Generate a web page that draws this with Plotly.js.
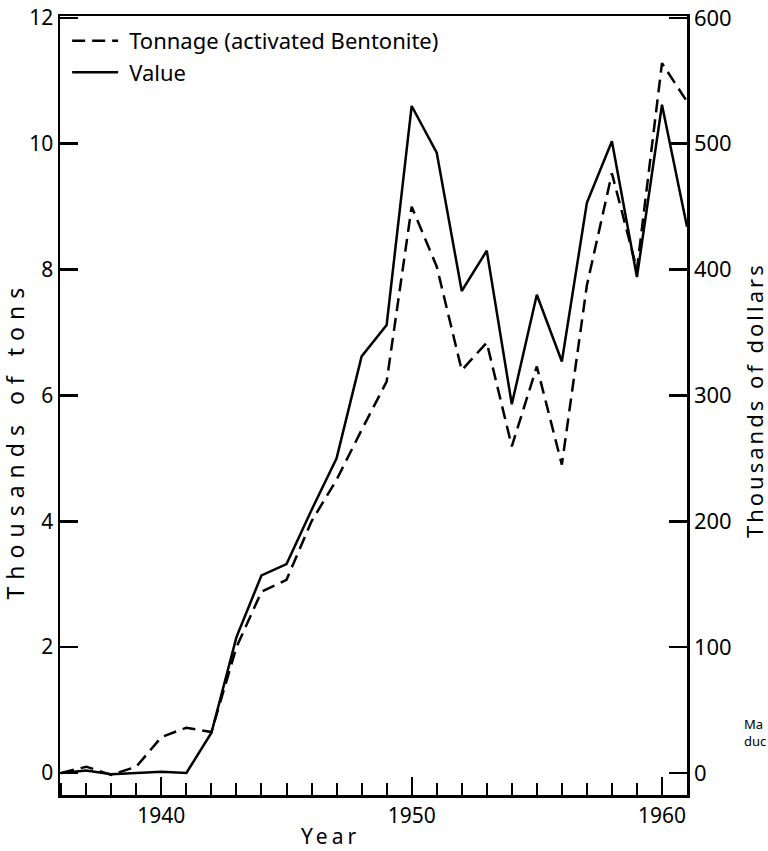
<!DOCTYPE html>
<html>
<head>
<meta charset="utf-8">
<script src="https://cdn.plot.ly/plotly-3.0.1.min.js"></script>
<style>
  html, body { margin: 0; padding: 0; background: #fff; }
  #chart { width: 768px; height: 851px; }
</style>
</head>
<body>
<div id="chart"></div>
<script>
// Years
const years = [1936, 1937, 1938, 1939, 1940, 1941, 1942, 1943, 1944, 1945, 1946, 1947, 1948,
               1949, 1950, 1951, 1952, 1953, 1954, 1955, 1956, 1957, 1958, 1959, 1960, 1961];
// Tonnage of activated bentonite, thousands of tons (left axis)
const tonnage = [0, 0.1, -0.03, 0.1, 0.57, 0.72, 0.65, 2.0, 2.88, 3.07, 4.0, 4.66, 5.45,
                 6.22, 9.0, 8.05, 6.4, 6.84, 5.19, 6.46, 4.9, 7.75, 9.53, 8.0, 11.28, 10.67];
// Value, thousands of dollars (right axis)
const value = [0, 2, -1, 0, 1, 0, 32, 108, 157, 166, 209, 250, 331,
               356, 530, 493, 383, 415, 293, 380, 327, 453, 502, 394, 531, 434];

const seriesNames = ['Tonnage (activated Bentonite)', 'Value'];
const leftTitle = 'Thousands of tons';
const rightTitle = 'Thousands of dollars';
const xTitle = 'Year';

const FONT = 'Noto Sans, DejaVu Sans, sans-serif';

const traces = [
  {
    x: years, y: tonnage, name: seriesNames[0], type: 'scatter', mode: 'lines',
    yaxis: 'y',
    line: { color: '#000', width: 2.5, dash: '13px,7px' }
  },
  {
    x: years, y: value, name: seriesNames[1], type: 'scatter', mode: 'lines',
    yaxis: 'y2',
    line: { color: '#000', width: 2.5 }
  }
];

const layout = {
  width: 768, height: 851,
  margin: { l: 60, r: 81, t: 16, b: 56 },
  paper_bgcolor: '#fff', plot_bgcolor: '#fff',
  font: { family: FONT, color: '#000', size: 21 },
  showlegend: true,
  legend: {
    x: 0.0114, y: 0.995, xanchor: 'left', yanchor: 'top',
    bgcolor: 'rgba(0,0,0,0)', font: { size: 22, family: FONT, color: '#000' },
    tracegroupgap: 0, itemwidth: 52
  },
  xaxis: {
    range: [1935.95, 1961.0],
    tickmode: 'linear', tick0: 1940, dtick: 10,
    ticks: 'inside', ticklen: 18, tickwidth: 2, tickcolor: '#000',
    showline: true, linecolor: '#000', linewidth: 2.5, mirror: true,
    showgrid: false, zeroline: false,
    tickfont: { size: 21, family: FONT, color: '#000' },
    minor: { tick0: 1936, dtick: 1, ticks: 'inside', ticklen: 12, tickwidth: 2, tickcolor: '#000', showgrid: false }
  },
  yaxis: {
    range: [-0.35, 12.03],
    tickmode: 'linear', tick0: 0, dtick: 2,
    ticks: 'inside', ticklen: 18, tickwidth: 2.5, tickcolor: '#000',
    showline: true, linecolor: '#000', linewidth: 2.5,
    showgrid: false, zeroline: false,
    tickfont: { size: 21, family: FONT, color: '#000' }
  },
  yaxis2: {
    overlaying: 'y', side: 'right',
    range: [-17.5, 601.5],
    tickmode: 'linear', tick0: 0, dtick: 100,
    ticks: 'inside', ticklen: 18, tickwidth: 2.5, tickcolor: '#000',
    showline: true, linecolor: '#000', linewidth: 2.5,
    showgrid: false, zeroline: false,
    tickfont: { size: 22, family: FONT, color: '#000' }
  },
  annotations: [
    { text: leftTitle, xref: 'paper', yref: 'paper', x: -0.0718, y: 0.4557,
      xanchor: 'center', yanchor: 'middle', textangle: -90, showarrow: false,
      font: { size: 23, family: FONT, color: '#000' } },
    { text: rightTitle, xref: 'paper', yref: 'paper', x: 1.1069, y: 0.507,
      xanchor: 'center', yanchor: 'middle', textangle: -90, showarrow: false,
      font: { size: 22, family: FONT, color: '#000' } },
    { text: xTitle, xref: 'paper', yref: 'paper', x: 0.432, y: -0.0526,
      xanchor: 'center', yanchor: 'middle', showarrow: false,
      font: { size: 21, family: FONT, color: '#000' } },
    { text: 'Ma<br>duc', xref: 'paper', yref: 'paper', x: 1.0877, y: 0.0796,
      xanchor: 'left', yanchor: 'middle', align: 'left', showarrow: false,
      font: { size: 13, family: FONT, color: '#000' } }
  ]
};

Plotly.newPlot('chart', traces, layout, { staticPlot: true, displayModeBar: false }).then(function (gd) {
  const spacing = ['7px', '3px', '4px', '0px'];
  gd.querySelectorAll('.annotation-text').forEach(function (el, i) {
    if (spacing[i]) el.style.letterSpacing = spacing[i];
  });
  // lengthen legend line samples
  gd.querySelectorAll('.legendlines path').forEach(function (p) {
    p.setAttribute('d', 'M5,0h46');
  });
});
</script>
</body>
</html>
